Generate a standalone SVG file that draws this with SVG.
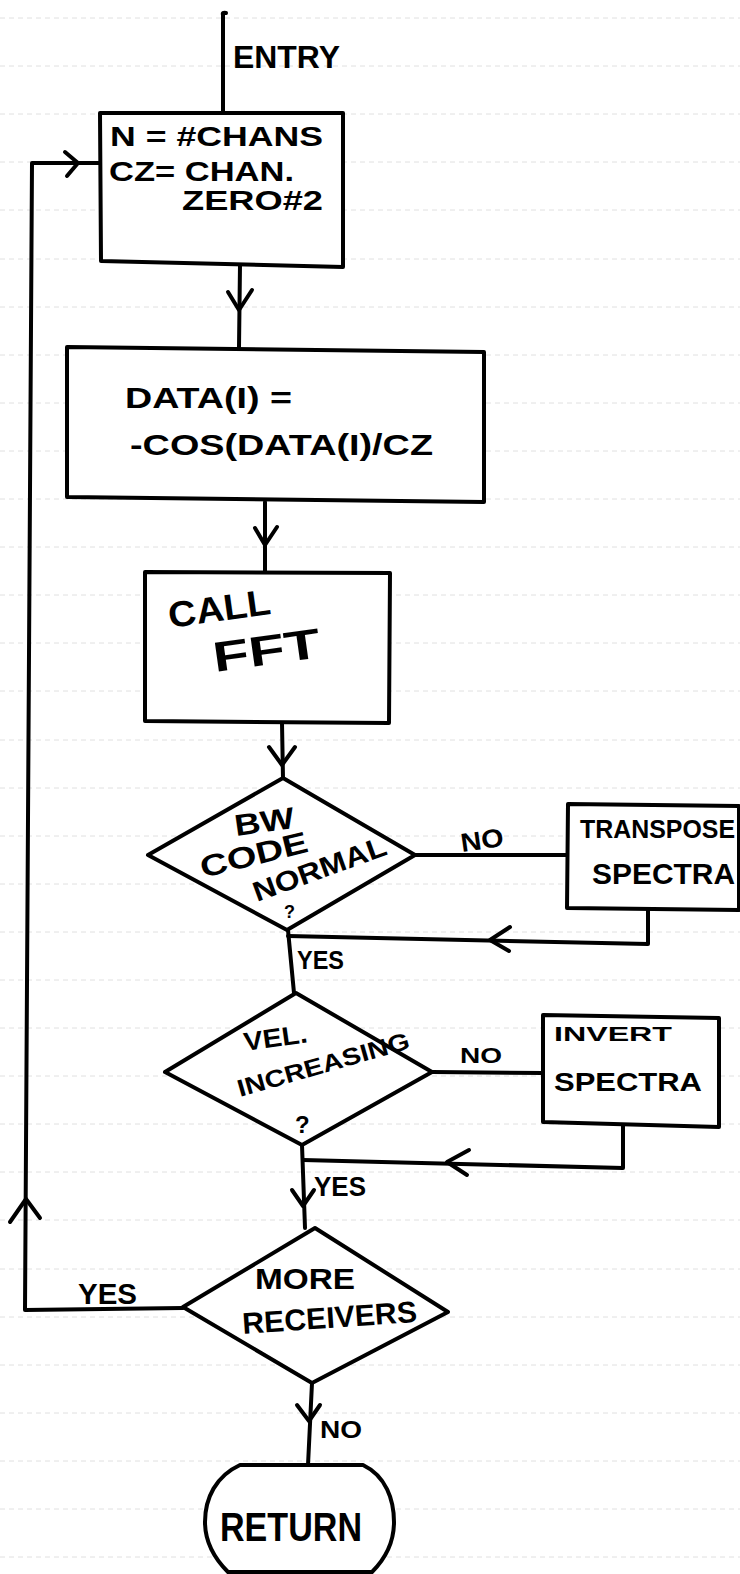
<svg xmlns="http://www.w3.org/2000/svg" width="740" height="1574" viewBox="0 0 740 1574">
<style>
.shape{fill:#fff;stroke:#000;stroke-width:4;stroke-linejoin:round;stroke-linecap:round}
.conn{fill:none;stroke:#000;stroke-width:4;stroke-linejoin:round;stroke-linecap:round}
.rule{fill:none;stroke:#e0e0e0;stroke-width:1;stroke-dasharray:5 4}
text{font-family:"Liberation Sans",Arial,sans-serif;font-weight:bold;fill:#000}
</style>
<rect width="740" height="1574" fill="#fff"/>
<g id="ruling">
<path class="rule" d="M0,18H740M0,66H740M0,114H740M0,162H740M0,210H740M0,259H740M0,307H740M0,355H740M0,403H740M0,451H740M0,499H740M0,547H740M0,595H740M0,643H740M0,691H740M0,740H740M0,788H740M0,836H740M0,884H740M0,932H740M0,980H740M0,1028H740M0,1076H740M0,1124H740M0,1172H740M0,1220H740M0,1269H740M0,1317H740M0,1365H740M0,1413H740M0,1461H740M0,1509H740M0,1557H740"/>
</g>
<g id="connectors">
<path class="conn" d="M223,113 L223,15 Q222,12 226,13"/>
<path class="conn" d="M240,265 L239,347"/>
<path class="conn" d="M228,292 L239,310 L252,290"/>
<path class="conn" d="M265,502 L265,572"/>
<path class="conn" d="M255,528 L265,545 L277,527"/>
<path class="conn" d="M282,723 L283,778"/>
<path class="conn" d="M269,747 L282,765 L295,747"/>
<path class="conn" d="M415,855 L568,855"/>
<path class="conn" d="M648,910 L648,944 L288,936"/>
<path class="conn" d="M510,927 L490,940 L509,951"/>
<path class="conn" d="M288,930 L294,993"/>
<path class="conn" d="M432,1072 L543,1073"/>
<path class="conn" d="M623,1126 L623,1168 L303,1160"/>
<path class="conn" d="M469,1150 L447,1162 L467,1175"/>
<path class="conn" d="M302,1145 L305,1228"/>
<path class="conn" d="M292,1190 L303,1206 L314,1190"/>
<path class="conn" d="M183,1308 L25,1310 L32,163 L100,163"/>
<path class="conn" d="M10,1222 L26,1199 L40,1218"/>
<path class="conn" d="M65,152 L78,163 L67,176"/>
<path class="conn" d="M312,1383 L308,1465"/>
<path class="conn" d="M297,1405 L309,1421 L320,1405"/>
</g>
<g id="entry-label">
<text x="233" y="68" font-size="32" textLength="107" lengthAdjust="spacingAndGlyphs">ENTRY</text>
</g>
<g id="node-init">
<path class="shape" d="M100,113 L343,113 L343,267 L101,261 Z"/>
<text x="110" y="146" font-size="27" textLength="213" lengthAdjust="spacingAndGlyphs">N = #CHANS</text>
<text x="109" y="181" font-size="27" textLength="185" lengthAdjust="spacingAndGlyphs">CZ= CHAN.</text>
<text x="182" y="210" font-size="27" textLength="141" lengthAdjust="spacingAndGlyphs">ZERO#2</text>
</g>
<g id="node-data">
<path class="shape" d="M67,347 L484,352 L484,502 L67,497 Z"/>
<text x="125" y="408" font-size="30" textLength="167" lengthAdjust="spacingAndGlyphs">DATA(I) =</text>
<text x="130" y="455" font-size="30" textLength="303" lengthAdjust="spacingAndGlyphs">-COS(DATA(I)/CZ</text>
</g>
<g id="node-fft">
<path class="shape" d="M145,572 L390,573 L389,723 L145,721 Z"/>
<text x="170" y="628" font-size="36" textLength="103" lengthAdjust="spacingAndGlyphs" transform="rotate(-8 170 628)">CALL</text>
<text x="215" y="672" font-size="42" textLength="108" lengthAdjust="spacingAndGlyphs" transform="rotate(-8 215 672)">FFT</text>
</g>
<g id="node-bw">
<polygon class="shape" points="283,778 415,855 287,930 148,855"/>
<text x="236" y="836" font-size="30" textLength="60" lengthAdjust="spacingAndGlyphs" transform="rotate(-8 236 836)">BW</text>
<text x="203" y="878" font-size="30" textLength="110" lengthAdjust="spacingAndGlyphs" transform="rotate(-14 203 878)">CODE</text>
<text x="257" y="902" font-size="28" textLength="140" lengthAdjust="spacingAndGlyphs" transform="rotate(-20 257 902)">NORMAL</text>
<text x="284" y="918" font-size="18">?</text>
</g>
<g id="node-transpose">
<path class="shape" d="M568,804 L739,806 L739,910 L567,908 Z"/>
<text x="580" y="838" font-size="26" textLength="155" lengthAdjust="spacingAndGlyphs">TRANSPOSE</text>
<text x="592" y="884" font-size="30" textLength="143" lengthAdjust="spacingAndGlyphs">SPECTRA</text>
</g>
<g id="node-vel">
<polygon class="shape" points="296,993 432,1072 302,1145 165,1072"/>
<text x="245" y="1051" font-size="26" textLength="64" lengthAdjust="spacingAndGlyphs" transform="rotate(-8 245 1051)">VEL.</text>
<text x="240" y="1097" font-size="24" textLength="178" lengthAdjust="spacingAndGlyphs" transform="rotate(-16 240 1097)">INCREASING</text>
<text x="295" y="1133" font-size="24">?</text>
</g>
<g id="node-invert">
<path class="shape" d="M543,1015 L719,1018 L719,1127 L543,1122 Z"/>
<text x="554" y="1041" font-size="20" textLength="118" lengthAdjust="spacingAndGlyphs">INVERT</text>
<text x="554" y="1091" font-size="26" textLength="148" lengthAdjust="spacingAndGlyphs">SPECTRA</text>
</g>
<g id="node-more">
<polygon class="shape" points="315,1228 448,1312 312,1383 183,1307"/>
<text x="255" y="1289" font-size="30" textLength="100" lengthAdjust="spacingAndGlyphs">MORE</text>
<text x="243" y="1334" font-size="30" textLength="175" lengthAdjust="spacingAndGlyphs" transform="rotate(-4 243 1334)">RECEIVERS</text>
</g>
<g id="node-return">
<path class="shape" d="M240,1465 L363,1465 C386,1476 394,1500 394,1522 C394,1544 384,1560 372,1572 L228,1572 C214,1558 205,1542 205,1522 C205,1498 216,1476 240,1465 Z"/>
<text x="220" y="1541" font-size="40" textLength="142" lengthAdjust="spacingAndGlyphs">RETURN</text>
</g>
<g id="labels">
<text x="462" y="852" font-size="26" textLength="43" lengthAdjust="spacingAndGlyphs" transform="rotate(-8 462 852)">NO</text>
<text x="297" y="969" font-size="26" textLength="47" lengthAdjust="spacingAndGlyphs">YES</text>
<text x="460" y="1063" font-size="22" textLength="42" lengthAdjust="spacingAndGlyphs">NO</text>
<text x="314" y="1196" font-size="28" textLength="52" lengthAdjust="spacingAndGlyphs">YES</text>
<text x="78" y="1304" font-size="30" textLength="59" lengthAdjust="spacingAndGlyphs">YES</text>
<text x="320" y="1438" font-size="24" textLength="42" lengthAdjust="spacingAndGlyphs">NO</text>
</g>
</svg>
